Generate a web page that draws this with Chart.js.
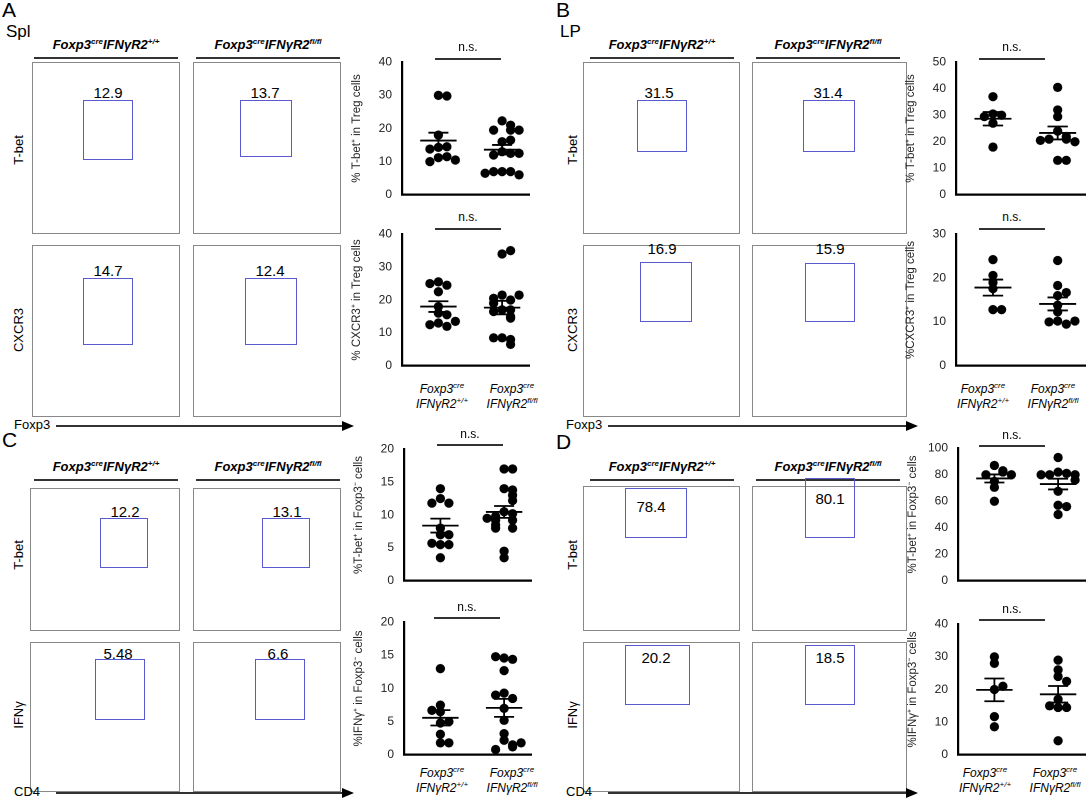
<!DOCTYPE html>
<html><head><meta charset="utf-8">
<script src="https://cdn.jsdelivr.net/npm/chart.js@4"></script>
<style>
body{margin:0;width:1091px;height:800px;background:#fff;position:relative;font-family:"Liberation Sans",Arial,sans-serif;overflow:hidden}
.a{position:absolute}
.frame{position:absolute;border:1px solid #888;box-sizing:border-box}
.gate{position:absolute;border:1.3px solid #5a5ad0;box-sizing:border-box}
.gn{position:absolute;font-size:15px;transform:translateX(-50%)}
.hd{position:absolute;font-size:13px;font-style:italic;font-weight:bold;transform:translateX(-50%);white-space:nowrap}
.ul{position:absolute;height:1.5px;background:#333}
.rl{position:absolute;font-size:13px;transform:translate(-50%,-50%) rotate(-90deg);white-space:nowrap}
.ns{position:absolute;font-size:12px;transform:translateX(-50%)}
.cat{position:absolute;font-size:12px;font-style:italic;text-align:center;transform:translateX(-50%);line-height:15px;white-space:nowrap}
sup{font-size:8px;line-height:0;vertical-align:5px}
.L{position:absolute;font-size:21px}
canvas{position:absolute}
</style></head><body>
<script>
// ---- data ----
const groups = ["Foxp3cre IFNγR2+/+", "Foxp3cre IFNγR2fl/fl"];
const A_tbet_wt = [30,29.8,18,14.3,14.5,13.8,11.2,11.5,10,10.5];
const A_tbet_ko = [22.3,21,19.5,19.5,19.5,16,16.5,13,12.5,12,12.5,7,7,7,6,6.5];
const A_cxcr3_wt = [25.5,24.5,25,22.5,18,16,15.5,13,12,12.5,13.5];
const A_cxcr3_ko = [34,35,21.5,20,20.5,21.5,19,17,17,16.5,15,14.5,8.5,8,8.5,6.5];
const B_tbet_wt = [37,30.5,30,29.5,27,18];
const B_tbet_ko = [40.5,32,29.5,24,22,21,21,20,20.5,13,13];
const B_cxcr3_wt = [24.2,20.6,19,17.6,12.8,12.8];
const B_cxcr3_ko = [24,18.3,16,16.7,13.8,12.3,10.2,9.5,10,10.2];
const C_tbet_wt = [14,12.5,11.8,11.8,8,7,7,5.5,5.5,5.7,3.5];
const C_tbet_ko = [17,17,14,13.8,13,12.2,10.5,10.2,9.8,9.2,9.2,9.5,8.5,8,8,4.5,3.5];
const C_ifng_wt = [13,7.5,6.5,6.7,4.8,5.0,3.1,1.8,1.8];
const C_ifng_ko = [14.6,14.4,14.8,12.7,9.3,8.5,9,7,5.2,3.2,2.2,1.5,1.2,1.8,0.8];
const D_tbet_wt = [87,83,82,80,80,75,70.5,60];
const D_tbet_ko = [93,82,81,80,80,80,76,67.5,57,56,50];
const D_ifng_wt = [30,28,20,21,11.7,8.6];
const D_ifng_ko = [29,26,24,22.5,17,14.5,14.5,15,4.3];
const gateValues = ["12.9","13.7","14.7","12.4","31.5","31.4","16.9","15.9","12.2","13.1","5.48","6.6","78.4","80.1","20.2","18.5"];

// ---- layout ----
function el(cls, html, css){const d=document.createElement('div');d.className=cls;if(html!==null)d.innerHTML=html;Object.assign(d.style,css);document.body.appendChild(d);return d;}
const px=v=>v+'px';
[["A",2,-2],["B",556,-2],["C",2,428],["D",556,430]].forEach(([t,x,y])=>el('L',t,{left:px(x),top:px(y)}));
el('a','Spl',{left:'6px',top:'22px',fontSize:'17px'});
el('a','LP',{left:'560px',top:'22px',fontSize:'17px'});
const hdr1='Foxp3<sup>cre</sup>IFNγR2<sup>+/+</sup>';
const hdr2='Foxp3<sup>cre</sup>IFNγR2<sup>fl/fl</sup>';
function headers(x1,x2,y){el('hd',hdr1,{left:px(x1),top:px(y)});el('hd',hdr2,{left:px(x2),top:px(y)});
 el('ul',null,{left:px(x1-72),top:px(y+20),width:'144px'});el('ul',null,{left:px(x2-72),top:px(y+20),width:'144px'});}
headers(106,268,37);headers(662,828,37);headers(106,268,459);headers(662,828,459);
const flows=[
 [32,62,148,172,[83,100,50,60],108,84],[193,62,148,172,[240,100,52,57],265,84],
 [32,245,148,172,[83,278,50,67],108,262],[193,245,148,172,[245,278,52,67],270,262],
 [583,62,157,172,[637,100,50,52],659,84],[752,62,155,172,[803,100,52,52],828,84],
 [583,245,157,172,[640,262,52,60],662,240],[752,245,155,172,[805,263,50,59],830,240],
 [30,488,150,143,[100,518,48,50],125,503],[193,488,148,143,[262,518,48,50],287,503],
 [30,642,150,150,[95,659,50,61],118,645],[193,642,148,150,[255,659,50,61],278,645],
 [583,486,157,145,[625,488,62,50],651,498],[752,486,155,145,[805,478,50,60],830,490],
 [583,642,157,150,[625,645,65,60],656,649],[752,642,155,150,[805,645,50,60],830,649]];
flows.forEach((f,i)=>{el('frame',null,{left:px(f[0]),top:px(f[1]),width:px(f[2]),height:px(f[3])});
 const g=f[4];el('gate',null,{left:px(g[0]),top:px(g[1]),width:px(g[2]),height:px(g[3])});
 el('gn',gateValues[i],{left:px(f[5]),top:px(f[6])});});
[["T-bet",18,150],["CXCR3",18,330],["T-bet",572,150],["CXCR3",572,330],["T-bet",18,555],["IFNγ",18,715],["T-bet",572,555],["IFNγ",572,715]].forEach(([t,x,y])=>el('rl',t,{left:px(x),top:px(y)}));
function arrow(x,y,w,t){el('a',t,{left:px(x),top:px(y-8),fontSize:'13px'});el('ul',null,{left:px(x+42),top:px(y),width:px(w)});
 el('a','',{left:px(x+42+w-2),top:px(y-4),width:0,height:0,borderTop:'5px solid transparent',borderBottom:'5px solid transparent',borderLeft:'12px solid #000'});}
arrow(14,425,288,'Foxp3');arrow(566,425,300,'Foxp3');arrow(14,792,288,'CD4');arrow(566,792,300,'CD4');

// ---- dot plots ----
const GX=[0.6,1.65];
function spread(vals,thr){const pos=[];vals.forEach((v,i)=>{let n=0;for(let j=0;j<i;j++)if(Math.abs(vals[j]-v)<thr)n++;const k=Math.ceil(n/2)*(n%2?1:-1);pos.push(k);});return pos;}
function pts(vals,g,range){const p=spread(vals,range*0.045);return vals.map((v,i)=>({x:GX[g]+p[i]*0.14,y:v}));}
const errPlugin={id:'err',afterDatasetsDraw(c){const ctx=c.ctx,xs=c.scales.x,ys=c.scales.y;ctx.save();ctx.strokeStyle='#000';ctx.lineWidth=1.8;
 c.config.options.plugins.err.sets.forEach((vals,g)=>{const n=vals.length,m=vals.reduce((a,b)=>a+b,0)/n;const sd=Math.sqrt(vals.reduce((a,b)=>a+(b-m)**2,0)/(n-1));const se=sd/Math.sqrt(n);
  const x=xs.getPixelForValue(GX[g]);const w=xs.getPixelForValue(0.3)-xs.getPixelForValue(0);const w2=w*0.55;
  const ym=ys.getPixelForValue(m),y1=ys.getPixelForValue(m+se),y2=ys.getPixelForValue(m-se);
  ctx.beginPath();ctx.moveTo(x-w,ym);ctx.lineTo(x+w,ym);ctx.moveTo(x-w2,y1);ctx.lineTo(x+w2,y1);ctx.moveTo(x-w2,y2);ctx.lineTo(x+w2,y2);ctx.moveTo(x,y1);ctx.lineTo(x,y2);ctx.stroke();});
 ctx.restore();}};
function dot(axisX,topY,zeroY,right,max,step,title,wt,ko){
 const cv=document.createElement('canvas');const padT=7,yw=52;
 cv.style.left=px(axisX-yw);cv.style.top=px(topY-padT);const W=right-axisX+yw+2,H=zeroY-topY+padT+2;
 cv.style.width=px(W);cv.style.height=px(H);document.body.appendChild(cv);
 new Chart(cv,{type:'scatter',data:{datasets:[{data:pts(wt,0,max),backgroundColor:'#000',pointRadius:4.6},{data:pts(ko,1,max),backgroundColor:'#000',pointRadius:4.6}]},
  options:{animation:false,responsive:false,devicePixelRatio:2,layout:{padding:{top:padT,right:2,left:0,bottom:0}},
   plugins:{legend:{display:false},tooltip:{enabled:false},err:{sets:[wt,ko]}},
   scales:{x:{min:0,max:2.1,grid:{display:false},ticks:{display:false},border:{color:'#000',width:2.2},afterFit(s){s.height=0;}},
    y:{min:0,max:max,grid:{display:false,drawTicks:true},ticks:{stepSize:step,color:'#222',font:{size:12,family:'Liberation Sans'},padding:2},
     border:{color:'#000',width:2.2},title:{display:true,text:title,color:'#222',font:{size:11.5,family:'Liberation Sans'},padding:{top:0,bottom:4}},afterFit(s){s.width=yw;}}}},
  plugins:[errPlugin]});
}
dot(402,60,202,533,40,10,'% T-bet\u207A in Treg cells',A_tbet_wt,A_tbet_ko);
dot(402,232,373,533,40,10,'% CXCR3\u207A in Treg cells',A_cxcr3_wt,A_cxcr3_ko);
dot(956,60,202,1089,50,10,'% T-bet\u207A in Treg cells',B_tbet_wt,B_tbet_ko);
dot(956,232,373,1089,30,10,'%CXCR3\u207A in Treg cells',B_cxcr3_wt,B_cxcr3_ko);
dot(404,447,588,535,20,5,'%T-bet\u207A in Foxp3\u207B cells',C_tbet_wt,C_tbet_ko);
dot(404,620,762,535,20,5,'%IFNγ\u207A in Foxp3\u207B cells',C_ifng_wt,C_ifng_ko);
dot(958,446,588,1089,100,20,'%T-bet\u207A in Foxp3\u207B cells',D_tbet_wt,D_tbet_ko);
dot(958,622,762,1089,40,10,'%IFNγ\u207A in Foxp3\u207B cells',D_ifng_wt,D_ifng_ko);
[[468,40,58],[468,210,228],[1012,40,58],[1012,210,228],[470,427,444],[467,600,617],[1012,428,445],[1012,602,619]].forEach(([x,y,ly])=>{
 el('ns','n.s.',{left:px(x),top:px(y)});el('ul',null,{left:px(x-33),top:px(ly),width:'66px'});});
const c1='Foxp3<sup>cre</sup><br>IFNγR2<sup>+/+</sup>';
const c2='Foxp3<sup>cre</sup><br>IFNγR2<sup>fl/fl</sup>';
[[442,382],[983,382],[442,766],[985,766]].forEach(([x,y])=>{el('cat',c1,{left:px(x),top:px(y)});el('cat',c2,{left:px(x+70),top:px(y)});});
</script>
</body></html>
